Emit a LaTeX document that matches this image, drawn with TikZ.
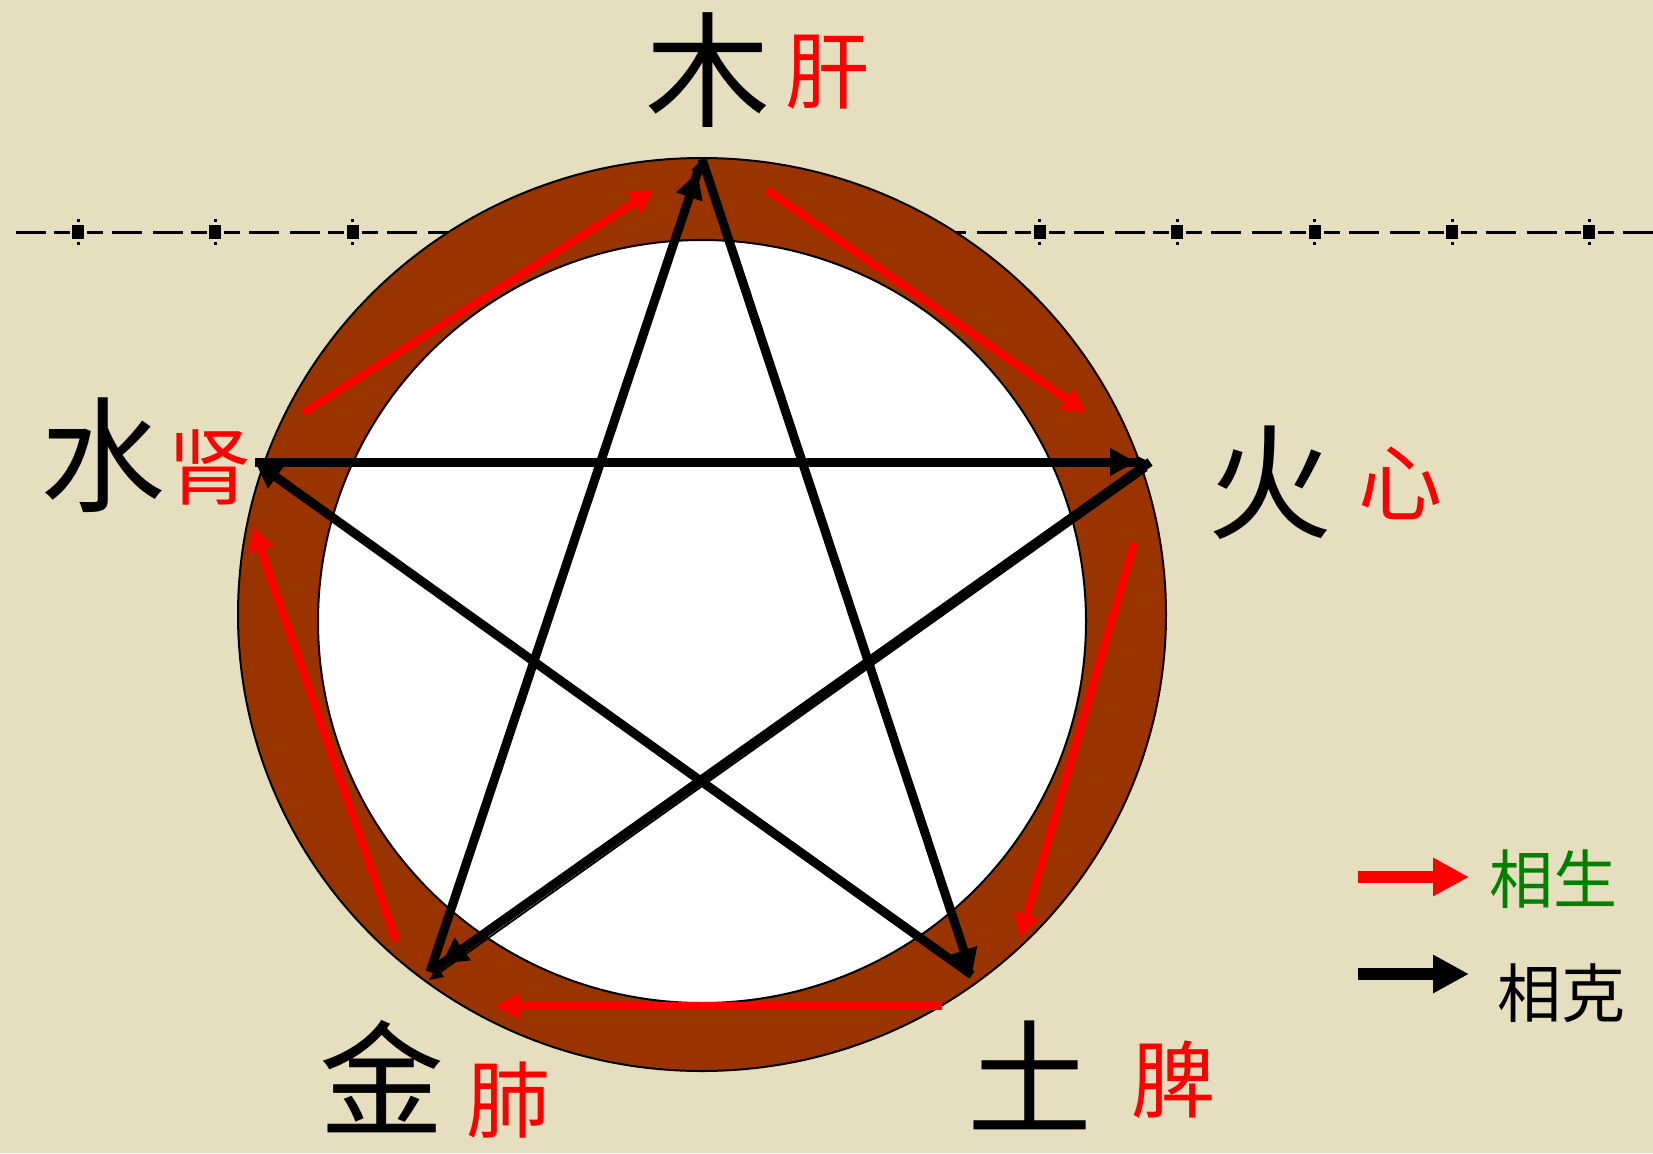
\documentclass[tikz,border=0pt]{standalone}
\usepackage{fontspec}
\newfontfamily\cjk{Noto Sans CJK SC}
\usetikzlibrary{arrows.meta}
\definecolor{bgc}{RGB}{229,222,191}
\definecolor{ringc}{RGB}{153,51,0}
\definecolor{lgreen}{RGB}{0,128,0}
\begin{document}
\begin{tikzpicture}[x=1pt,y=-1pt,
  redarr/.style={draw=red, line width=8pt, -{Triangle[length=24pt,width=24pt]}},
  blkarr/.style={draw=black, line width=9pt, -{Triangle[length=26pt,width=26pt]}},
  blkdbl/.style={draw=black, line width=9pt, -{Triangle[length=26pt,width=26pt]Triangle[length=14pt,width=12pt]}},
  thinarr/.style={draw=black, line width=2pt, -{Triangle[length=14pt,width=12pt]}},
  elem/.style={inner sep=0pt, font=\cjk\fontsize{125}{125}\selectfont},
  organ/.style={inner sep=0pt, text=red, font=\cjk\fontsize{84}{84}\selectfont},
  legtxt/.style={inner sep=0pt, font=\cjk\fontsize{64}{64}\selectfont},
  legarr/.style={line width=12pt, -{Triangle[length=36pt,width=36pt]}}]
\fill[bgc] (0,0) rectangle (1653,1153);
\useasboundingbox (0,0) rectangle (1653,1153);
% dashed guide line
\begin{scope}
\clip (14,200) rectangle (1653,260);
\foreach \k in {-1,...,12} {
  \pgfmathsetmacro\c{78+137.4*\k}
  \foreach \a/\b in {9/25,34/64,75/105,113/129}
    \draw[line width=3pt] (\c+\a,232) -- (\c+\b,232);
  \fill (\c-6,225) rectangle (\c+6,239);
  \fill (\c-1.5,219) rectangle (\c+1.5,222);
  \fill (\c-1.5,242) rectangle (\c+1.5,245);
}
\end{scope}
% ring
\draw[fill=ringc, line width=2pt] (702,614.5) ellipse [x radius=464, y radius=456.5];
\draw[fill=white, line width=2pt] (702,621.5) ellipse [x radius=384, y radius=381.5];
% vertices
\coordinate (T) at (702,159);
\coordinate (R) at (1150,462);
\coordinate (L) at (255,462);
\coordinate (BL) at (430,972);
\coordinate (BR) at (972,975);
% red generating arrows
\coordinate (r1a) at (303,413); \coordinate (r1b) at (654,190);
\coordinate (r2a) at (767,190); \coordinate (r2b) at (1086,413);
\coordinate (r3a) at (1134,543); \coordinate (r3b) at (1020,938);
\coordinate (r4a) at (942,1006); \coordinate (r4b) at (495,1006);
\coordinate (r5a) at (396,941); \coordinate (r5b) at (253,527);
\draw[redarr] (r1a) -- (r1b);
\draw[redarr] (r2a) -- (r2b);
\draw[redarr] (r3a) -- (r3b);
\draw[redarr] (r4a) -- (r4b);
\draw[redarr] (r5a) -- (r5b);
% black controlling arrows
\draw[blkarr] (T) -- (BR);
\draw[blkarr] (BR) -- (L);
\draw[blkdbl] (L) -- (R);
\draw[blkdbl] (R) -- (BL);
\draw[thinarr] ([shift={(-3,8)}]R) -- ([shift={(-1,8)}]BL);
\draw[blkdbl] (BL) -- (T);
% labels
\node[elem] (mu) at (708,70) {木};
\node[organ] (gan) at (827,72) {肝};
\node[elem] (shui) at (103,455) {水};
\node[organ] (shen) at (209,467) {肾};
\node[elem] (huo) at (1270,483) {火};
\node[organ] (xin) at (1400,483) {心};
\node[elem] (jin) at (382,1077) {金};
\node[organ] (fei) at (508,1100) {肺};
\node[elem] (tu) at (1030,1075) {土};
\node[organ] (pi) at (1173,1080) {脾};
% legend
\coordinate (lra) at (1358,877); \coordinate (lrb) at (1469,877);
\coordinate (lba) at (1358,974); \coordinate (lbb) at (1469,974);
\draw[legarr, draw=red] (lra) -- (lrb);
\draw[legarr, draw=black] (lba) -- (lbb);
\node[legtxt, text=lgreen] (sheng) at (1553,879) {相生};
\node[legtxt] (ke) at (1561,993) {相克};
\end{tikzpicture}
\end{document}
